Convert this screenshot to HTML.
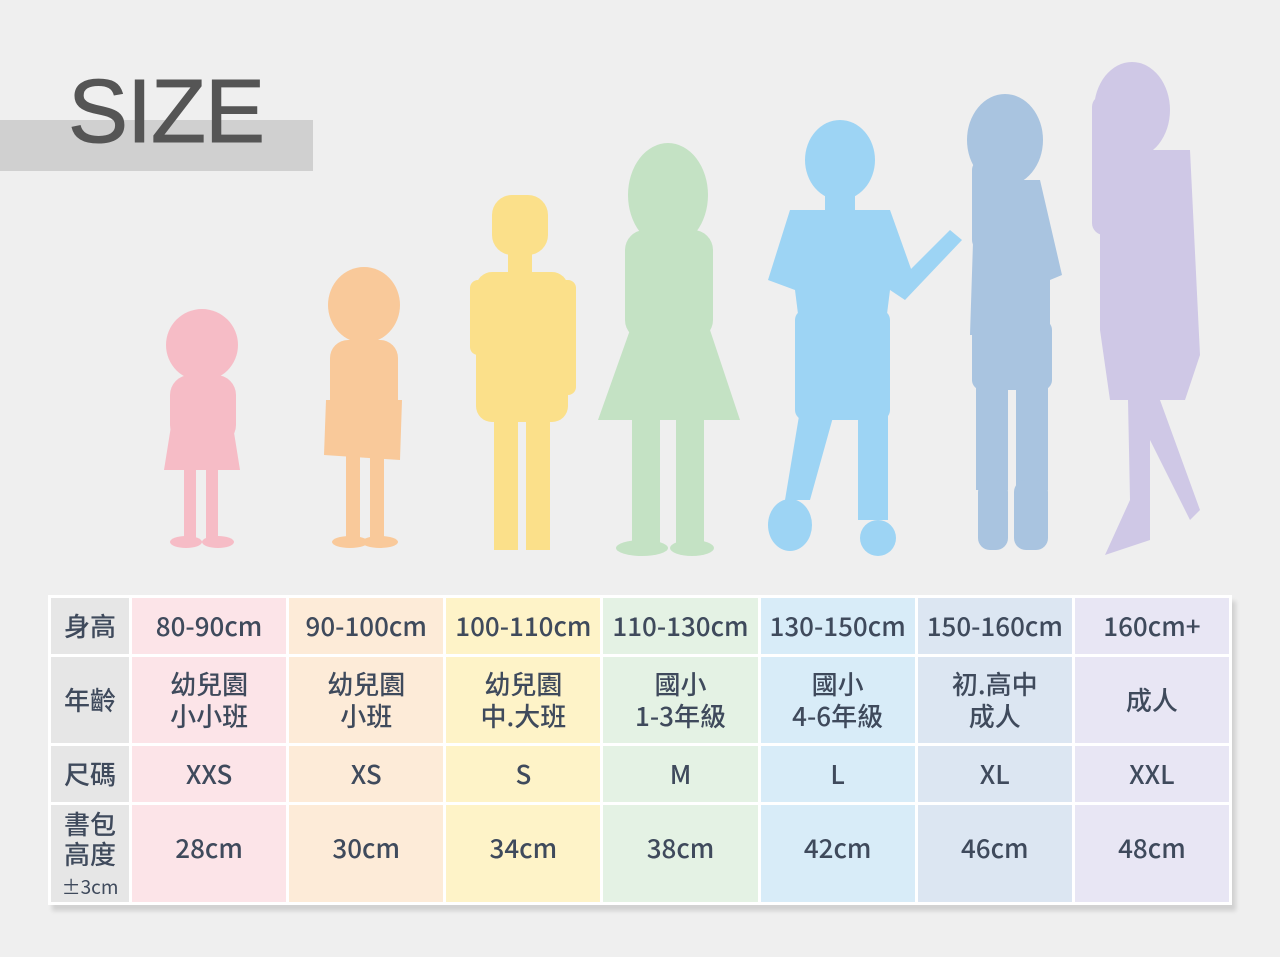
<!DOCTYPE html>
<html><head><meta charset="utf-8"><style>
body{margin:0;width:1280px;height:957px;background:#efefef;position:relative;overflow:hidden;font-family:"Noto Sans CJK TC","Liberation Sans",sans-serif;}
.bar{position:absolute;left:0;top:120px;width:313px;height:51px;background:#d0d0d0;}
.title{position:absolute;left:68px;top:62px;font-size:90px;color:#555;font-family:"Liberation Sans",sans-serif;letter-spacing:-1px;line-height:100px;-webkit-text-stroke:1px #555;}
table{position:absolute;left:48px;top:595px;width:1184px;table-layout:fixed;border-collapse:collapse;box-shadow:4px 6px 4px rgba(0,0,0,0.12);}
td{border:3px solid #fff;text-align:center;color:#3f4a5c;font-size:26px;padding:0;line-height:32px;font-weight:500;white-space:nowrap;overflow:hidden;}
td.l{background:#e6e6e6;}
.c1{background:#fce4e8}.c2{background:#fdebd8}.c3{background:#fef3c8}.c4{background:#e4f2e4}.c5{background:#d8ecf8}.c6{background:#dce6f2}.c7{background:#e8e6f4}
tr.last td:not(.l){padding-bottom:12px}
</style></head><body>
<div class="bar"></div>
<div class="title">SIZE</div>
<svg width="1280" height="590" style="position:absolute;left:0;top:0">
<g fill="#f6bcc6"><ellipse cx="202" cy="345" rx="36" ry="36"/><rect x="170" y="375" width="66" height="70" rx="20"/><polygon points="172,420 232,420 240,470 164,470"/><rect x="184" y="465" width="12" height="78"/><rect x="206" y="465" width="12" height="78"/><ellipse cx="186" cy="542" rx="16" ry="6"/><ellipse cx="218" cy="542" rx="16" ry="6"/></g>
<g fill="#f9c99a"><ellipse cx="364" cy="305" rx="36" ry="38"/><rect x="330" y="340" width="68" height="80" rx="18"/><polygon points="326,400 402,400 400,460 324,455"/><rect x="346" y="455" width="14" height="86"/><rect x="370" y="455" width="14" height="86"/><ellipse cx="350" cy="542" rx="18" ry="6"/><ellipse cx="380" cy="542" rx="18" ry="6"/></g>
<g fill="#fbe08a"><rect x="492" y="195" width="56" height="60" rx="20"/><rect x="508" y="250" width="24" height="25"/><rect x="476" y="272" width="92" height="150" rx="16"/><rect x="470" y="280" width="20" height="75" rx="8"/><rect x="556" y="280" width="20" height="115" rx="8"/><rect x="494" y="415" width="24" height="135"/><rect x="526" y="415" width="24" height="135"/></g>
<g fill="#c4e2c4"><ellipse cx="668" cy="195" rx="40" ry="52"/><rect x="625" y="230" width="88" height="110" rx="20"/><polygon points="630,330 710,330 740,420 598,420"/><rect x="632" y="410" width="28" height="140"/><rect x="676" y="410" width="28" height="140"/><ellipse cx="642" cy="548" rx="26" ry="8"/><ellipse cx="692" cy="548" rx="22" ry="8"/></g>
<g fill="#9dd4f4"><ellipse cx="840" cy="160" rx="35" ry="40"/><rect x="825" y="195" width="30" height="20"/><polygon points="790,210 890,210 915,280 890,290 885,330 800,330 795,290 768,280"/><polygon points="890,290 950,230 962,240 905,300"/><rect x="795" y="310" width="95" height="110" rx="10"/><polygon points="800,410 835,410 810,500 785,500"/><rect x="858" y="410" width="30" height="110"/><ellipse cx="790" cy="525" rx="22" ry="26"/><ellipse cx="878" cy="538" rx="18" ry="18"/></g>
<g fill="#a9c4e0"><ellipse cx="1005" cy="140" rx="38" ry="46"/><rect x="972" y="160" width="30" height="90" rx="10"/><polygon points="975,180 1040,180 1062,275 1050,280 1050,335 970,335"/><rect x="972" y="320" width="80" height="70" rx="10"/><rect x="976" y="380" width="32" height="110"/><rect x="1016" y="380" width="32" height="110"/><rect x="978" y="480" width="30" height="70" rx="12"/><rect x="1014" y="480" width="34" height="70" rx="12"/></g>
<g fill="#cfc8e6"><ellipse cx="1132" cy="110" rx="38" ry="48"/><rect x="1092" y="95" width="30" height="140" rx="12"/><polygon points="1100,150 1190,150 1200,355 1185,400 1110,400 1100,330"/><polygon points="1128,400 1160,400 1200,510 1190,520 1150,440 1150,540 1105,555 1130,500"/></g>
</svg>
<table>
<colgroup><col style="width:81px"><col><col><col><col><col><col><col></colgroup>
<tr style="height:59px"><td class="l">身高</td><td class="c1">80-90cm</td><td class="c2">90-100cm</td><td class="c3">100-110cm</td><td class="c4">110-130cm</td><td class="c5">130-150cm</td><td class="c6">150-160cm</td><td class="c7">160cm+</td></tr>
<tr style="height:89px"><td class="l">年齡</td><td class="c1">幼兒園<br>小小班</td><td class="c2">幼兒園<br>小班</td><td class="c3">幼兒園<br>中.大班</td><td class="c4">國小<br>1-3年級</td><td class="c5">國小<br>4-6年級</td><td class="c6">初.高中<br>成人</td><td class="c7">成人</td></tr>
<tr style="height:59px"><td class="l">尺碼</td><td class="c1">XXS</td><td class="c2">XS</td><td class="c3">S</td><td class="c4">M</td><td class="c5">L</td><td class="c6">XL</td><td class="c7">XXL</td></tr>
<tr class="last" style="height:100px"><td class="l" style="line-height:30px">書包<br>高度<br><span style="font-size:19px;line-height:20px;font-weight:400">±3cm</span></td><td class="c1">28cm</td><td class="c2">30cm</td><td class="c3">34cm</td><td class="c4">38cm</td><td class="c5">42cm</td><td class="c6">46cm</td><td class="c7">48cm</td></tr>
</table>
</body></html>
